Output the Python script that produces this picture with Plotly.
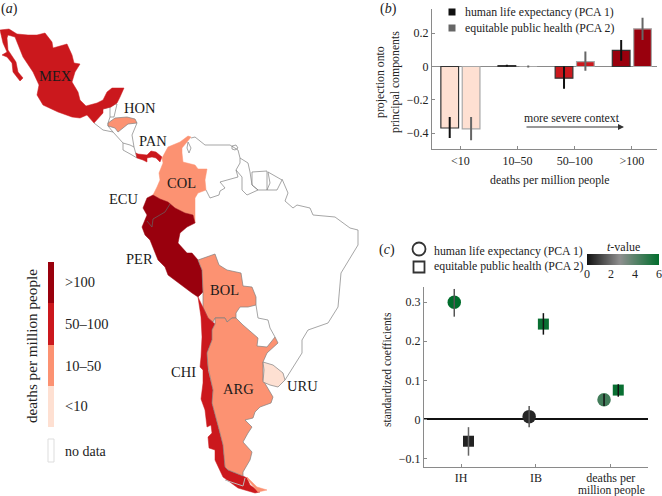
import plotly.graph_objects as go

# ---------- panel (a): map outlines (map units) and classes ----------
mex = [(0,30),(9,29),(17,34),(28,35),(37,35),(45,33),(52,42),(53,48),(67,44),(72,55),(74,63),(80,64),(75,72),(72,82),(78,92),(80,100),(86,106),(97,103),(103,100),(107,92),(112,88),(124,88),(120,97),(117,103),(111,107),(103,109),(103,113),(97,120),(94,123),(87,115),(80,118),(72,117),(58,112),(43,105),(37,95),(39,85),(33,72),(23,57),(17,43),(15,37),(8,35),(7,38),(8,50),(16,62),(18,72),(23,78),(20,81),(13,72),(12,63),(7,57),(2,55),(7,52),(3,43),(0,30)]
hon = [(108,123),(115,118),(127,117),(135,119),(137,123),(128,124),(118,132),(115,128),(108,126),(108,123)]
pan = [(136,153),(138,154),(147,155),(151,151),(156,152),(162,157),(160,162),(156,158),(152,157),(147,158),(147,162),(143,160),(137,158),(136,153)]
col = [(188,136),(191,137),(187,142),(182,148),(182,153),(183,162),(195,165),(198,169),(207,169),(205,180),(206,190),(198,193),(195,198),(195,223),(193,215),(185,213),(175,208),(168,202),(160,199),(153,195),(157,187),(160,180),(159,173),(163,163),(162,158),(168,147),(180,142),(188,136)]
per = [(153,195),(160,199),(168,202),(175,208),(185,213),(193,215),(195,223),(187,227),(180,233),(178,243),(187,253),(192,253),(198,260),(202,270),(203,292),(198,297),(192,293),(178,283),(168,275),(165,267),(158,260),(150,240),(145,235),(142,227),(147,215),(143,208),(147,198),(153,195)]
bol = [(198,260),(215,254),(219,265),(227,270),(241,273),(243,286),(252,287),(256,297),(256,305),(248,307),(240,307),(236,313),(236,318),(232,318),(227,322),(225,318),(218,318),(215,318),(213,322),(208,318),(203,307),(203,292),(202,270),(198,260)]
chi = [(198,297),(203,307),(208,318),(215,324),(212,330),(212,340),(207,353),(208,367),(208,370),(213,390),(212,403),(217,422),(220,433),(223,445),(225,467),(228,470),(243,476),(247,478),(250,485),(260,492),(255,493),(238,488),(223,477),(215,460),(215,450),(209,448),(208,437),(212,433),(211,425),(207,427),(205,410),(201,399),(203,383),(203,370),(200,367),(201,357),(202,337),(201,317),(198,297)]
arg = [(215,318),(218,318),(225,318),(227,322),(232,318),(236,318),(243,325),(258,338),(257,346),(267,347),(275,337),(278,343),(267,353),(263,362),(263,370),(263,380),(273,397),(271,403),(260,407),(255,412),(253,418),(245,420),(252,427),(248,433),(243,442),(252,452),(250,460),(243,472),(243,476),(228,470),(225,467),(223,445),(220,433),(217,422),(212,403),(213,390),(208,370),(208,367),(207,353),(212,340),(212,330),(215,324),(215,318)]
tdf = [(247,477),(257,487),(267,490),(258,492),(248,480),(247,477)]
uru = [(263,362),(273,365),(283,373),(285,380),(278,387),(270,385),(263,382),(264,370),(263,362)]
ecu_border = [(170,204),(165,212),(153,219),(152,227),(147,221)]
fuego_line = [(225,480),(235,483),(243,486),(245,478)]
guatemala = [(103,109),(110,107),(110,117),(108,123),(108,126),(113,132),(103,130),(94,123)]
belize = [(110,107),(115,104),(117,104),(114,117),(110,117)]
nicaragua = [(137,123),(132,135),(134,147),(136,153),(137,158),(132,155),(123,150),(123,143),(113,132)]
costa_rica = [(123,143),(130,145),(134,147)]
brazil_coast = [(285,380),(288,375),(302,353),(302,340),(308,330),(328,323),(338,307),(341,273),(358,245),(358,230),(350,228),(335,217),(313,215),(310,208),(297,205),(293,208),(285,201),(288,193),(282,179)]
fr_guiana = [(268,172),(278,178),(282,180),(277,190),(267,190),(270,183),(268,172)]
suriname = [(252,172),(267,171),(267,190),(258,190),(252,185),(252,172)]
guyana = [(240,158),(248,163),(250,172),(252,185),(258,190),(247,195),(242,190),(242,177),(236,170),(240,163),(240,158)]
venezuela = [(191,138),(195,137),(205,145),(230,145),(238,150),(240,158)]
ven_south = [(236,170),(238,177),(220,182),(225,188),(220,191),(219,195),(210,198),(206,190)]
maracaibo = [(188,142),(187,148),(189,153),(191,148),(188,142)]
trinidad = [(232,146),(236,145),(238,148),(235,150),(232,149),(232,146)]
paraguay_edge = [(256,305),(258,318),(268,320),(270,328),(275,337)]

class_colors = ["#FEE0D2", "#FC9272", "#CB181D", "#99000D"]
class_labels = ["<10", "10\u201350", "50\u2013100", ">100"]
country_labels = ["MEX", "HON", "PAN", "COL", "ECU", "PER", "BOL", "CHI", "ARG", "URU"]
country_label_x = [55, 140, 153, 181, 124, 139, 224, 183, 238, 302]
country_label_y = [76, 108, 141, 183, 199, 259, 290, 372, 389, 386]

# ---------- panel (b) ----------
contexts = ["<10", "10\u201350", "50\u2013100", ">100"]
pca1_vals = [-0.37, 0.005, -0.07, 0.097]
pca1_lo = [-0.43, 0.0, -0.134, 0.034]
pca1_hi = [-0.304, 0.01, 0.0, 0.16]
pca2_vals = [-0.375, 0.0, 0.03, 0.227]
pca2_lo = [-0.444, -0.006, -0.026, 0.16]
pca2_hi = [-0.304, 0.006, 0.09, 0.294]

# ---------- panel (c) ----------
predictors = ["IH", "IB", "deaths per"]
c1_vals = [0.30, 0.007, 0.05]
c1_lo = [0.263, -0.02, 0.034]
c1_hi = [0.334, 0.034, 0.065]
c1_t = [6.0, 0.4, 4.5]
c1_err = ["#555555", "#555555", "#111111"]
c2_vals = [-0.056, 0.244, 0.075]
c2_lo = [-0.093, 0.217, 0.058]
c2_hi = [-0.02, 0.272, 0.09]
c2_t = [0.3, 5.8, 5.8]
c2_err = ["#666666", "#111111", "#111111"]
t_ticks = [0, 2, 4, 6]

SERIF = "Liberation Serif"
TXT = "#222222"
AX = "#8a8a8a"
W, H = 662, 496

fig = go.Figure()

def poly(pts, fill=None, line="#808080", lw=0.7):
    fig.add_trace(go.Scatter(
        x=[p[0] for p in pts], y=[p[1] for p in pts],
        xaxis="x3", yaxis="y3", mode="lines", hoverinfo="skip",
        line=dict(color=line, width=lw),
        fill="toself" if fill else "none", fillcolor=fill))

for o in [guatemala, belize, nicaragua, costa_rica, brazil_coast, fr_guiana, suriname,
          guyana, venezuela, ven_south, maracaibo, trinidad, paraguay_edge]:
    poly(o)
poly(mex, class_colors[2], class_colors[2], 0.5)
poly(hon, class_colors[1])
poly(pan, class_colors[2], class_colors[2], 0.5)
poly(col, class_colors[1], class_colors[1], 0.5)
poly(per, class_colors[3], class_colors[3], 0.5)
poly(bol, class_colors[1])
poly(chi, class_colors[2], class_colors[2], 0.5)
poly(arg, class_colors[1])
poly(tdf, class_colors[1], class_colors[1], 0.5)
poly(uru, class_colors[0])
poly(ecu_border, None, "#666666", 0.7)
poly(fuego_line, None, "#bbbbbb", 1.0)

# panel (b) bars
GROUP = 0.187
BW = 0.31
for vals, lo, hi, off, edge, err in [
    (pca1_vals, pca1_lo, pca1_hi, -GROUP, "#333333", "#111111"),
    (pca2_vals, pca2_lo, pca2_hi, GROUP, "#a8a8a8", "#666666"),
]:
    fig.add_trace(go.Bar(
        x=[i + off for i in range(len(contexts))], y=vals, width=BW,
        marker=dict(color=[class_colors[i] for i in range(len(contexts))],
                    line=dict(color=edge, width=1.2)),
        error_y=dict(type="data", symmetric=False,
                     array=[h - v for h, v in zip(hi, vals)],
                     arrayminus=[v - l for l, v in zip(lo, vals)],
                     color=err, thickness=2, width=0),
        xaxis="x", yaxis="y", hoverinfo="skip"))

# panel (c) points + error lines
for vals, lo, hi, ts, errs, off, sym, size in [
    (c1_vals, c1_lo, c1_hi, c1_t, c1_err, -0.09, "circle", 13.5),
    (c2_vals, c2_lo, c2_hi, c2_t, c2_err, 0.10, "square", 11),
]:
    xs = [i + off for i in range(len(predictors))]
    fig.add_trace(go.Scatter(
        x=xs, y=vals, xaxis="x2", yaxis="y2", mode="markers", hoverinfo="skip",
        marker=dict(symbol=sym, size=size, color=ts, coloraxis="coloraxis",
                    line=dict(width=0))))
    for x, l, h, e in zip(xs, lo, hi, errs):
        fig.add_trace(go.Scatter(x=[x, x], y=[l, h], xaxis="x2", yaxis="y2", mode="lines",
                                 hoverinfo="skip", line=dict(color=e, width=1.5)))

# t-value colour scale strip
steps = [i / 12 for i in range(73)]
fig.add_trace(go.Heatmap(x=steps, y=[0, 1], z=[steps, steps], coloraxis="coloraxis",
                         xaxis="x4", yaxis="y4", hoverinfo="skip"))

# legend markers in overlay units
for px, py, sym, size, col_, open_ in [
    (452, 12, "square", 7, "#111111", False), (452, 28, "square", 7, "#666666", False),
    (419, 249, "circle", 13, "#333333", True), (419, 267, "square", 11, "#333333", True),
]:
    fig.add_trace(go.Scatter(
        x=[px], y=[py], xaxis="x3", yaxis="y3", mode="markers", hoverinfo="skip",
        marker=dict(symbol=sym + ("-open" if open_ else ""), size=size, color=col_,
                    line=dict(color=col_, width=1.8 if open_ else 0))))

shapes = []
for y0, y1, c in [(262, 303, class_colors[3]), (303, 345, class_colors[2]),
                  (345, 386, class_colors[1]), (386, 427, class_colors[0])]:
    shapes.append(dict(type="rect", xref="x3", yref="y3", x0=48, x1=54, y0=y0, y1=y1,
                       fillcolor=c, line=dict(width=0), layer="above"))
shapes.append(dict(type="rect", xref="x3", yref="y3", x0=48, x1=54, y0=439, y1=462,
                   fillcolor="white", line=dict(color="#dddddd", width=1)))

ann = []
def text(x, y, s, size=13, angle=0, anchor="center", color=TXT):
    ann.append(dict(x=x, y=y, xref="x3", yref="y3", text=s, showarrow=False, xanchor=anchor,
                    yanchor="middle", textangle=angle,
                    font=dict(family=SERIF, size=size, color=color)))

for s, x, y in zip(country_labels, country_label_x, country_label_y):
    text(x, y, s, 14.5, color="#1a1a1a")
text(9, 9, "(<i>a</i>)", 14)
text(388, 9, "(<i>b</i>)", 14)
text(387, 250, "(<i>c</i>)", 14)
text(31, 346, "deaths per million people", 15.2, -90)
for s, y in zip(class_labels[::-1], [282, 324, 366, 406]):
    text(63, y, s, 14.5, anchor="left")
text(63, 451, "no data", 14, anchor="left")
text(463, 12, "human life expectancy (PCA 1)", 11.8, anchor="left")
text(463, 28, "equitable public health (PCA 2)", 11.8, anchor="left")
text(432, 251, "human life expectancy (PCA 1)", 11.8, anchor="left")
text(432, 266, "equitable public health (PCA 2)", 11.8, anchor="left")
text(380, 82, "projection onto", 11.8, -90)
text(395, 82, "principal components", 11.8, -90)
text(550, 180, "deaths per million people", 11.8)
text(572, 118, "more severe context", 11.8)
text(387, 370, "standardized coefficients", 11.5, -90)
text(611, 490, "million people", 11.5)
text(623, 247, "<i>t</i>-value", 12)
ann.append(dict(x=624, y=127, ax=525, ay=127, xref="x3", yref="y3", axref="x3", ayref="y3",
                text="", showarrow=True, arrowhead=2, arrowsize=1, arrowwidth=1.2,
                arrowcolor="#333333"))

tickfont = dict(family=SERIF, size=12, color=TXT)
axis_common = dict(showgrid=False, showline=True, linecolor=AX, linewidth=1, ticks="inside",
                   ticklen=3, tickcolor=AX, tickwidth=1, tickfont=tickfont)

fig.update_layout(
    width=W, height=H, margin=dict(l=0, r=0, t=0, b=0, autoexpand=False), autosize=False,
    paper_bgcolor="white", plot_bgcolor="rgba(0,0,0,0)", showlegend=False, barmode="overlay",
    xaxis=dict(domain=[432/W, 657/W], range=[-0.497, 3.44], tickvals=list(range(4)),
               ticktext=contexts, zeroline=False, anchor="y", **axis_common),
    yaxis=dict(domain=[1-149.3/H, 1-9/H], range=[-0.498, 0.346], tickvals=[-0.4, -0.2, 0, 0.2],
               ticktext=["\u22120.4", "\u22120.2", "0", "0.2"], zeroline=True, zerolinecolor=AX,
               zerolinewidth=1, anchor="x", **axis_common),
    xaxis2=dict(domain=[424/W, 648/W], range=[-0.494, 2.497], tickvals=list(range(3)),
                ticktext=predictors, zeroline=False, anchor="y2", **axis_common),
    yaxis2=dict(domain=[1-467/H, 1-287/H], range=[-0.122, 0.339], tickvals=[-0.1, 0, 0.1, 0.2, 0.3],
                ticktext=["\u22120.1", "0", "0.1", "0.2", "0.3"], zeroline=True,
                zerolinecolor="#111111", zerolinewidth=2, anchor="x2", **axis_common),
    xaxis3=dict(domain=[0, 1], range=[0, W], visible=False, anchor="y3", fixedrange=True),
    yaxis3=dict(domain=[0, 1], range=[H, 0], visible=False, anchor="x3", fixedrange=True),
    xaxis4=dict(domain=[587/W, 659/W], range=[0, 6], tickvals=t_ticks, ticks="", showline=False,
                showgrid=False, zeroline=False, tickfont=tickfont, anchor="y4"),
    yaxis4=dict(domain=[1-265/H, 1-254/H], range=[0, 1], visible=False, anchor="x4"),
    coloraxis=dict(
        cmin=0, cmax=6, showscale=False,
        colorscale=[[0, "#141414"], [0.45, "#8f8f8f"], [1, "#006d2c"]]),
    shapes=shapes, annotations=ann,
)

fig.write_html("out.html", config={"displayModeBar": False},
               post_script="document.body.style.margin='0';document.body.style.overflow='hidden';")
